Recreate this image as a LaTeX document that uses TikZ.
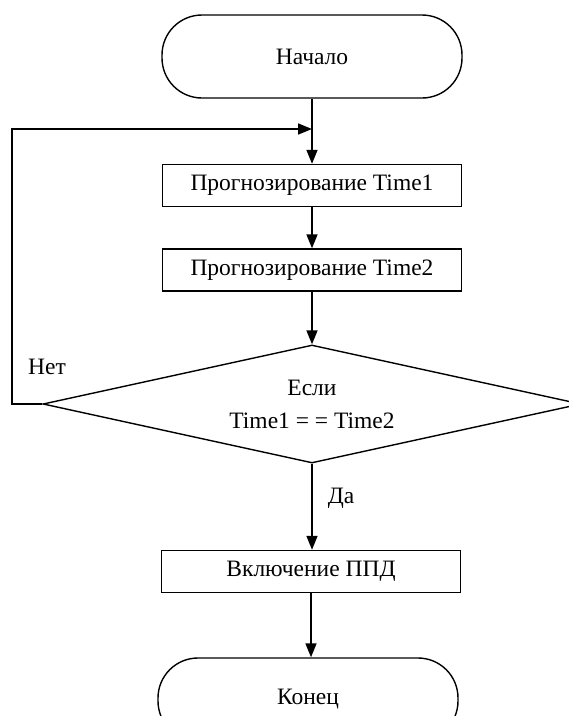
\documentclass[tikz,border=0pt]{standalone}
\usepackage{fontspec}
\setmainfont{Liberation Serif}
\usetikzlibrary{shapes.geometric,arrows.meta}

\tikzset{
  term/.style={draw, line width=1.4pt, rounded corners=40pt, minimum width=300pt, minimum height=83pt, inner sep=0pt},
  proc/.style={draw, line width=1.4pt, minimum width=299pt, minimum height=42pt, inner sep=0pt},
  cond/.style={draw, diamond, aspect=4.56, line width=1.4pt, minimum width=538pt, minimum height=118pt, inner sep=0pt, align=center},
  flow/.style={line width=1.7pt, -{Triangle[length=14pt,width=11pt]}}
}

\begin{document}
\begin{tikzpicture}[x=1pt, y=-1pt, font=\fontsize{23.5}{33}\selectfont]
\useasboundingbox (0,0) rectangle (569,716);
\clip (0,0) rectangle (569,716);

% blocks
\node [term] (start) at (312,56.5) {Начало};
\node [proc] (box1) at (312,185.5) {Прогнозирование Time1};
\node [proc] (box2) at (312,270) {Прогнозирование Time2};
\node [cond] (cond) at (312,404) {Если\\Time1 = = Time2};
\node [proc] (box3) at (311,571.5) {Включение ППД};
\node [term] (stop) at (308,699.5) {Конец};

% labels
\node (no) at (47,367) {Нет};
\node (yes) at (341,498) {Да};

% loop back
\coordinate (join) at (312,129);
\coordinate (lb) at (12,404);
\coordinate (lt) at (12,129);

\draw [line width=1.7pt] (start) -- (join);
\draw [flow] (join) -- (box1);
\draw [flow] (cond.west) -- (lb) -- (lt) -- (join);
\draw [flow] (box1) -- (box2);
\draw [flow] (box2) -- (cond);
\draw [flow] (cond.south) -- (cond.south |- box3.north);
\draw [flow] (box3.south) -- (box3.south |- stop.north);
\end{tikzpicture}
\end{document}
